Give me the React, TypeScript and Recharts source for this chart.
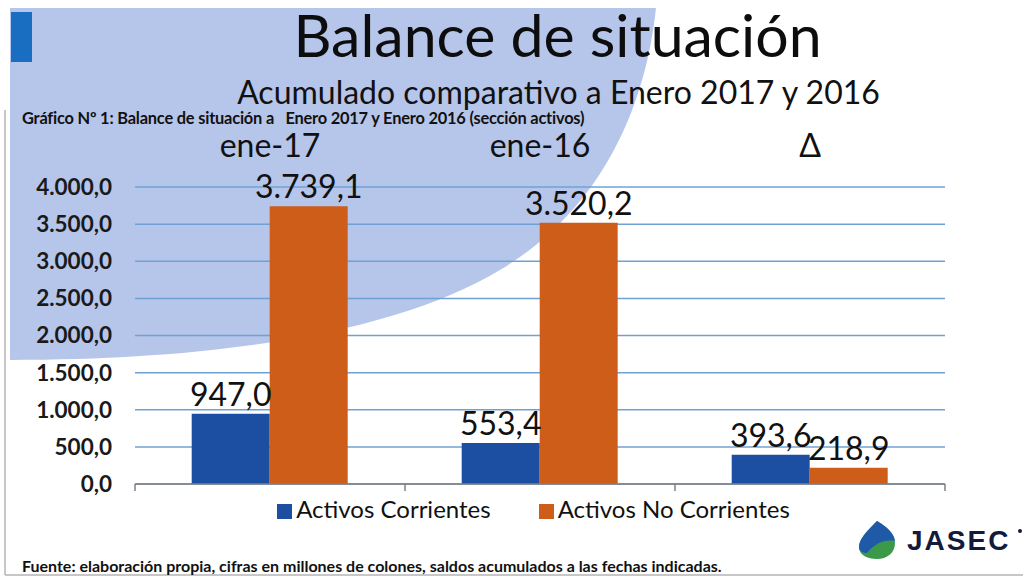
import { BarChart, Bar, XAxis, YAxis, CartesianGrid, Legend, LabelList } from "recharts";

const categories = ["ene-17", "ene-16", "Δ"];
const activosCorrientes = [947.0, 553.4, 393.6];
const activosNoCorrientes = [3739.1, 3520.2, 218.9];
const yTicks = [0, 500, 1000, 1500, 2000, 2500, 3000, 3500, 4000];

const data = categories.map((cat, i) => ({
  cat,
  corrientes: activosCorrientes[i],
  noCorrientes: activosNoCorrientes[i],
}));

// 3739.1 -> "3.739,1"
const fmt = (v: any) => {
  const [int, dec] = Number(v).toFixed(1).split(".");
  return int.replace(/\B(?=(\d{3})+(?!\d))/g, ".") + "," + dec;
};

const FONT = "Lato, 'Open Sans', sans-serif";

// excel-style ticks sitting between categories
const BoundaryTick = (props: any) => {
  const { x, y, payload, index, visibleTicksCount } = props;
  const half = payload.offset ?? 0;
  return (
    <g>
      <line x1={x - half} x2={x - half} y1={y} y2={y + 7} stroke="#7f7f7f" strokeWidth={1.5} />
      {index === visibleTicksCount - 1 && (
        <line x1={x + half} x2={x + half} y1={y} y2={y + 7} stroke="#7f7f7f" strokeWidth={1.5} />
      )}
    </g>
  );
};

export default function App() {
  return (
    <div style={{ position: "relative", width: 1028, height: 579, background: "#fff", fontFamily: FONT, overflow: "hidden" }}>
      <style>{`body{margin:0}`}</style>

      {/* slide decoration */}
      <svg width={1028} height={579} style={{ position: "absolute", left: 0, top: 0 }}>
        <path
          d="M10,8 L656,8 C645,110 600,210 500,270 C400,330 230,360 10,360 Z"
          fill="#b6c5ea"
        />
        <rect x={11} y={12} width={21} height={50} fill="#1a6ec2" />
        <line x1={5} y1={110} x2={5} y2={575} stroke="#b5b5b5" strokeWidth={1.5} />
        <line x1={5} y1={575} x2={1023} y2={575} stroke="#b5b5b5" strokeWidth={1.5} />
      </svg>

      <div style={{ position: "absolute", top: 0, left: 0, width: 1115, textAlign: "center", fontSize: 59, lineHeight: 1.2, color: "#0d0d0d" }}>
        Balance de situación
      </div>
      <div style={{ position: "absolute", top: 73, left: 0, width: 1117, textAlign: "center", fontSize: 32, lineHeight: 1.2, color: "#111" }}>
        Acumulado comparativo a Enero 2017 y 2016
      </div>
      <div style={{ position: "absolute", top: 110, left: 22, fontSize: 16.4, lineHeight: 1, fontWeight: 700, color: "#111", whiteSpace: "pre", letterSpacing: -0.2 }}>
        {"Gráfico Nº 1: Balance de situación a   Enero 2017 y Enero 2016 (sección activos)"}
      </div>

      <div style={{ position: "absolute", left: 0, top: 0 }}>
        <BarChart
          width={1028}
          height={579}
          data={data}
          margin={{ top: 100, right: 83, bottom: 65, left: 0 }}
          barCategoryGap="21%"
          barGap={0}
          style={{ fontFamily: FONT }}
        >
          <CartesianGrid horizontal vertical={false} stroke="#6fa2d3" strokeWidth={1.5} />
          <XAxis
            xAxisId="top"
            orientation="top"
            dataKey="cat"
            height={87}
            axisLine={false}
            tickLine={false}
            tickSize={0}
            tickMargin={30}
            tick={{ fontSize: 32, fill: "#111", fontFamily: FONT }}
          />
          <XAxis
            dataKey="cat"
            height={30}
            axisLine={{ stroke: "#7f7f7f", strokeWidth: 1.5 }}
            tickLine={false}
            tickSize={0}
            tickMargin={0}
            tick={<BoundaryTick />}
          />
          <YAxis
            domain={[0, 4000]}
            ticks={yTicks}
            width={135}
            axisLine={false}
            tickLine={false}
            tickSize={0}
            tickMargin={23}
            tickFormatter={fmt}
            tick={{ fontSize: 22.5, fontWeight: 700, fill: "#1a1a1a", fontFamily: FONT }}
          />
          <Legend
            verticalAlign="middle"
            align="center"
            iconType="square"
            iconSize={15}
            wrapperStyle={{ top: 494, left: 66, fontSize: 24, fontFamily: FONT }}
            formatter={(value: any, _entry: any, index: number) => (
              <span style={{ color: "#111", marginRight: index === 0 ? 38 : 0 }}>{value}</span>
            )}
          />
          <Bar dataKey="corrientes" name="Activos Corrientes" fill="#1c4fa2" isAnimationActive={false}>
            <LabelList dataKey="corrientes" position="top" offset={8} formatter={fmt} style={{ fontSize: 32, fill: "#111", fontFamily: FONT }} />
          </Bar>
          <Bar dataKey="noCorrientes" name="Activos No Corrientes" fill="#cd5d18" isAnimationActive={false}>
            <LabelList dataKey="noCorrientes" position="top" offset={8} formatter={fmt} style={{ fontSize: 32, fill: "#111", fontFamily: FONT }} />
          </Bar>
        </BarChart>
      </div>

      {/* logo */}
      <svg width={172} height={45} style={{ position: "absolute", left: 855, top: 517 }}>
        <path d="M22,4 C12,14 4,22 4,30 C4,38 12,42 22,42 C32,42 40,36 40,26 C40,18 32,10 22,4 Z" fill="#3a9a4a" />
        <path d="M22,4 C12,14 4,22 4,30 C4,34 8,36 12,36 C20,26 30,22 40,24 C39,16 32,10 22,4 Z" fill="#1f5aa8" />
        <text x={52} y={33} fontFamily="'Liberation Sans', Arial, sans-serif" fontWeight={900} fontSize={28} fill="#141a3a" letterSpacing={2}>
          JASEC
        </text>
        <circle cx={165} cy={14} r={2} fill="#141a3a" />
      </svg>

      <div style={{ position: "absolute", top: 556, left: 22, fontSize: 16, lineHeight: 1.2, fontWeight: 700, color: "#111" }}>
        Fuente: elaboración propia, cifras en millones de colones, saldos acumulados a las fechas indicadas.
      </div>
    </div>
  );
}
